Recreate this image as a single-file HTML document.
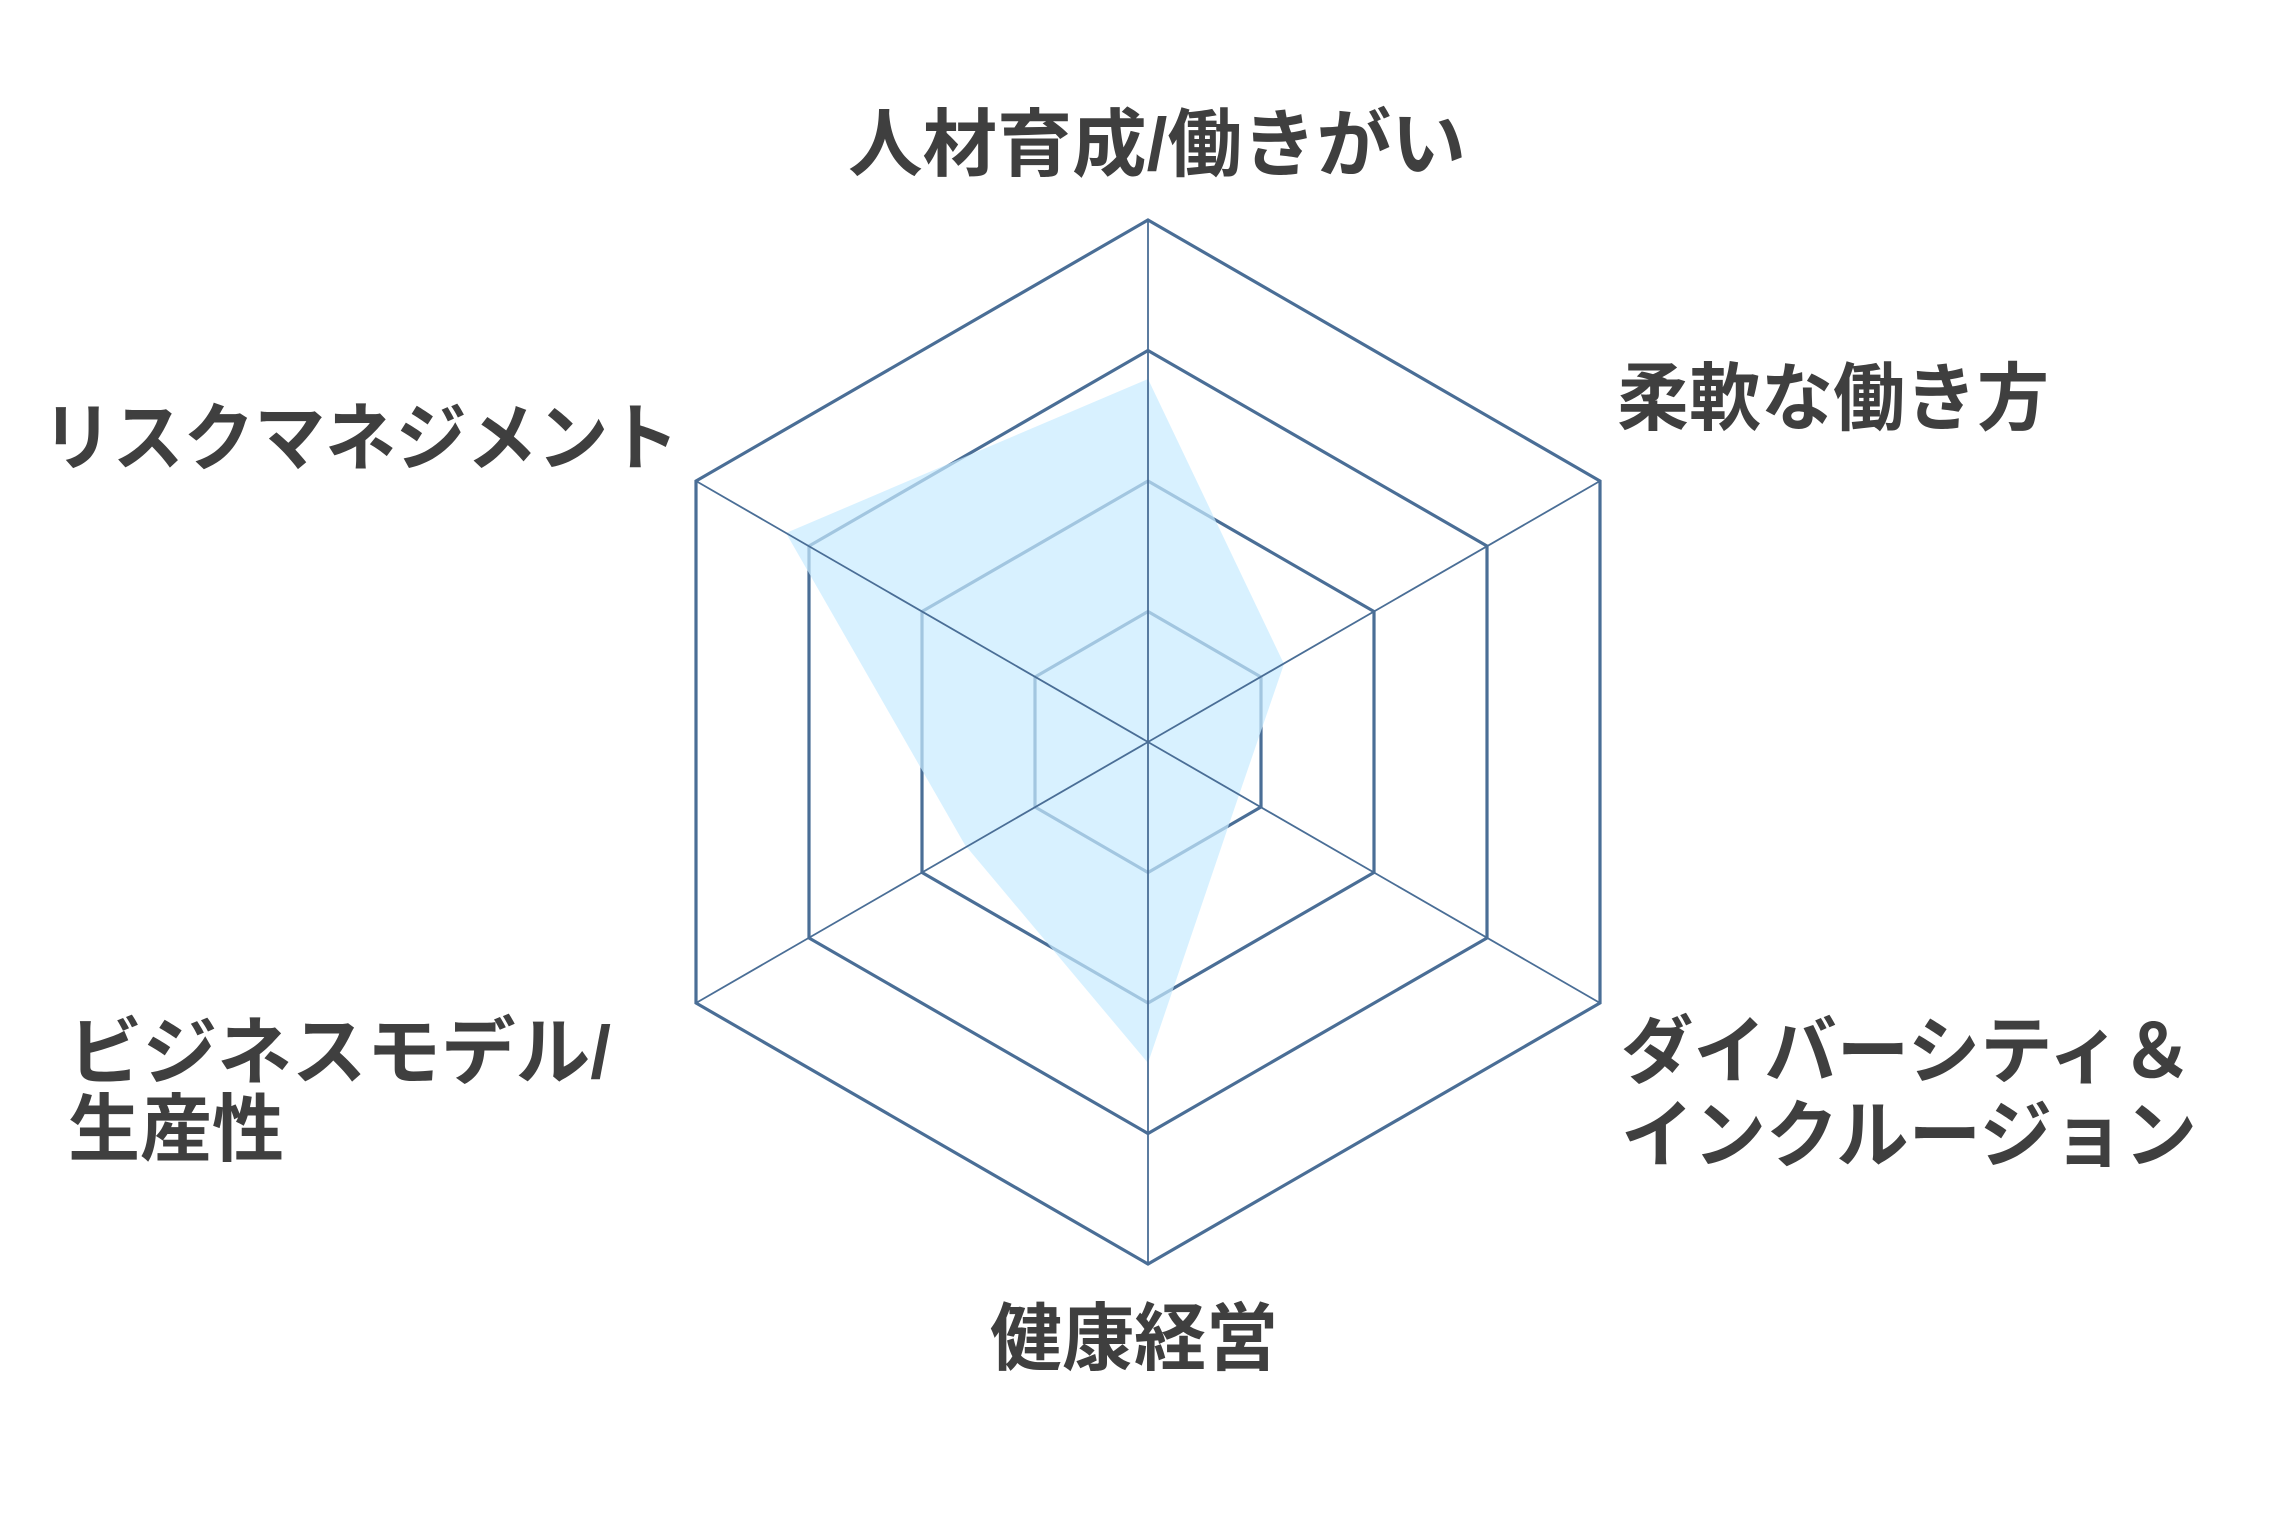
<!DOCTYPE html>
<html><head><meta charset="utf-8"><style>
html,body{margin:0;padding:0;background:#fff;}
svg{display:block;}
text{font-family:"Liberation Sans","Noto Sans CJK JP",sans-serif;font-weight:bold;fill:#3f3f3f;font-size:74px;}
</style></head><body>
<svg width="2285" height="1536" viewBox="0 0 2285 1536" xmlns="http://www.w3.org/2000/svg">
<g fill="none" stroke="#4a6e96" stroke-width="3.2" stroke-linejoin="miter">
<polygon points="1148,220 1600,481 1600,1003 1148,1264 696,1003 696,481"/>
<polygon points="1148,350.5 1487,546 1487,938 1148,1133.5 809,938 809,546"/>
<polygon points="1148,481 1374,611.5 1374,872.5 1148,1003 922,872.5 922,611.5"/>
<polygon points="1148,611.5 1261,677 1261,807 1148,872.5 1035,807 1035,677"/>
</g>
<polygon points="1148,379 1284,664 1239,795 1148,1063 965,845 786,533" fill="rgb(200,235,255)" fill-opacity="0.7"/>
<g stroke="#4a6e96" stroke-width="1.8">
<line x1="1148" y1="220" x2="1148" y2="1264"/>
<line x1="1600" y1="481" x2="696" y2="1003"/>
<line x1="1600" y1="1003" x2="696" y2="481"/>
</g>
<text x="848" y="170" textLength="618" lengthAdjust="spacingAndGlyphs">人材育成/働きがい</text>
<text x="1617" y="424" textLength="432" lengthAdjust="spacingAndGlyphs">柔軟な働き方</text>
<text x="42" y="464" textLength="637" lengthAdjust="spacingAndGlyphs">リスクマネジメント</text>
<text x="1621" y="1077" textLength="572" lengthAdjust="spacingAndGlyphs">ダイバーシティ＆</text>
<text x="1621" y="1161" textLength="576" lengthAdjust="spacingAndGlyphs">インクルージョン</text>
<text x="68" y="1078" textLength="543" lengthAdjust="spacingAndGlyphs">ビジネスモデル/</text>
<text x="68" y="1155" textLength="216" lengthAdjust="spacingAndGlyphs">生産性</text>
<text x="990" y="1364" textLength="288" lengthAdjust="spacingAndGlyphs">健康経営</text>
</svg>
</body></html>
